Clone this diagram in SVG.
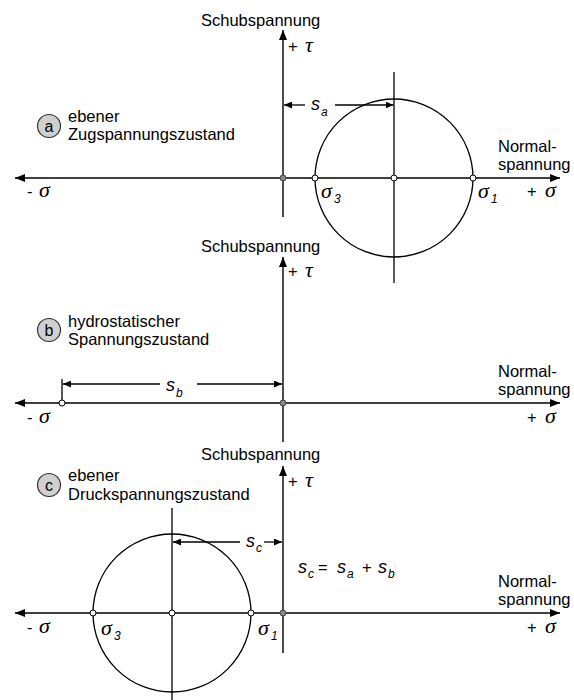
<svg xmlns="http://www.w3.org/2000/svg" width="574" height="700" viewBox="0 0 574 700">
<defs>
<marker id="ah" viewBox="0 0 10 8" refX="10" refY="4" markerWidth="10" markerHeight="8" markerUnits="userSpaceOnUse" orient="auto-start-reverse"><path d="M0,0 L10,4 L0,8 Z" fill="#000"/></marker>
<marker id="dh" viewBox="0 0 8 7" refX="8" refY="3.5" markerWidth="8" markerHeight="7" markerUnits="userSpaceOnUse" orient="auto-start-reverse"><path d="M0,0 L8,3.5 L0,7 Z" fill="#000"/></marker>
</defs>
<style>
.ax{stroke:#000;stroke-width:1.4;fill:none}
.ln{stroke:#000;stroke-width:1.3;fill:none}
.t{font-family:"Liberation Sans",Arial,sans-serif;font-size:16.5px;fill:#000}
.g{font-family:"Liberation Serif","Times New Roman",serif;font-style:italic;font-size:22px;fill:#000}
.gs{font-family:"Liberation Sans",Arial,sans-serif;font-style:italic;font-size:12px;fill:#000}
.s{font-family:"Liberation Sans",Arial,sans-serif;font-style:italic;font-size:18px;fill:#000}
.od{fill:#fff;stroke:#000;stroke-width:1}
.gd{fill:#888;stroke:#444;stroke-width:1}
.lb{fill:#d0d0d0;stroke:#333;stroke-width:1.2}
.lt{font-family:"Liberation Sans",Arial,sans-serif;font-size:16px;fill:#000;text-anchor:middle}
</style>

<g id="connectors">
<!-- panel a -->
<line class="ax" x1="283" y1="217" x2="283" y2="30" marker-end="url(#ah)"/>
<line class="ax" x1="15" y1="178" x2="560" y2="178" marker-start="url(#ah)" marker-end="url(#ah)"/>
<line class="ln" x1="305" y1="105" x2="284" y2="105" marker-end="url(#dh)"/>
<line class="ln" x1="335" y1="105" x2="393.5" y2="105" marker-end="url(#dh)"/>
<!-- panel b -->
<line class="ax" x1="283" y1="442" x2="283" y2="257" marker-end="url(#ah)"/>
<line class="ax" x1="15" y1="403" x2="560" y2="403" marker-start="url(#ah)" marker-end="url(#ah)"/>
<line class="ln" x1="62" y1="379" x2="62" y2="400"/>
<line class="ln" x1="160" y1="384" x2="63" y2="384" marker-end="url(#dh)"/>
<line class="ln" x1="197" y1="384" x2="282" y2="384" marker-end="url(#dh)"/>
<!-- panel c -->
<line class="ax" x1="283" y1="653" x2="283" y2="466" marker-end="url(#ah)"/>
<line class="ax" x1="15" y1="613" x2="560" y2="613" marker-start="url(#ah)" marker-end="url(#ah)"/>
<line class="ln" x1="240" y1="542" x2="173" y2="542" marker-end="url(#dh)"/>
<line class="ln" x1="264" y1="542" x2="282" y2="542" marker-end="url(#dh)"/>
</g>

<g id="mohr-a">
<circle class="ln" cx="394" cy="178" r="79"/>
<line class="ln" x1="394" y1="72" x2="394" y2="283"/>
<circle class="od" cx="315" cy="178" r="3"/>
<circle class="od" cx="394" cy="178" r="3"/>
<circle class="od" cx="473" cy="178" r="3"/>
<circle class="gd" cx="283" cy="178" r="3"/>
</g>
<g id="mohr-b">
<circle class="od" cx="62" cy="403" r="3"/>
<circle class="gd" cx="283" cy="403" r="3"/>
</g>
<g id="mohr-c">
<circle class="ln" cx="172" cy="613" r="79"/>
<line class="ln" x1="172" y1="508" x2="172" y2="700"/>
<circle class="od" cx="93" cy="613" r="3"/>
<circle class="od" cx="172" cy="613" r="3"/>
<circle class="od" cx="251" cy="613" r="3"/>
<circle class="gd" cx="283" cy="613" r="3"/>
</g>

<g id="labels-a">
<text class="t" x="201" y="26">Schubspannung</text>
<text class="t" x="288" y="52">+</text><text class="g" x="305" y="52">τ</text>
<circle class="lb" cx="49" cy="126" r="11.5"/><text class="lt" x="49" y="131.5">a</text>
<text class="t" x="68" y="122">ebener</text>
<text class="t" x="68" y="140">Zugspannungszustand</text>
<text class="s" x="311" y="110">s</text><text class="gs" x="321" y="116">a</text>
<text class="t" x="498" y="152">Normal-</text>
<text class="t" x="498" y="170">spannung</text>
<text class="t" x="27" y="197">-</text><text class="g" x="39" y="197">σ</text>
<text class="t" x="527" y="197">+</text><text class="g" x="545" y="197">σ</text>
<text class="g" x="321" y="198">σ</text><text class="gs" x="334" y="203">3</text>
<text class="g" x="478" y="198">σ</text><text class="gs" x="491" y="203">1</text>
</g>

<g id="labels-b">
<text class="t" x="201" y="252">Schubspannung</text>
<text class="t" x="288" y="277">+</text><text class="g" x="305" y="277">τ</text>
<circle class="lb" cx="49" cy="330" r="11.5"/><text class="lt" x="49" y="335.5">b</text>
<text class="t" x="68" y="327">hydrostatischer</text>
<text class="t" x="68" y="345">Spannungszustand</text>
<text class="s" x="166" y="391">s</text><text class="gs" x="176" y="397">b</text>
<text class="t" x="498" y="377">Normal-</text>
<text class="t" x="498" y="395">spannung</text>
<text class="t" x="27" y="423">-</text><text class="g" x="39" y="423">σ</text>
<text class="t" x="527" y="423">+</text><text class="g" x="545" y="423">σ</text>
</g>

<g id="labels-c">
<text class="t" x="201" y="460">Schubspannung</text>
<text class="t" x="288" y="487">+</text><text class="g" x="305" y="487">τ</text>
<circle class="lb" cx="49" cy="485" r="11.5"/><text class="lt" x="49" y="490.5">c</text>
<text class="t" x="68" y="481">ebener</text>
<text class="t" x="68" y="500">Druckspannungszustand</text>
<text class="s" x="246" y="547">s</text><text class="gs" x="256" y="552">c</text>
<text class="s" x="298" y="573">s</text><text class="gs" x="308" y="578">c</text>
<text class="t" x="318" y="573">=</text>
<text class="s" x="337" y="573">s</text><text class="gs" x="347" y="578">a</text>
<text class="t" x="362" y="573">+</text>
<text class="s" x="378" y="573">s</text><text class="gs" x="388" y="578">b</text>
<text class="t" x="498" y="587">Normal-</text>
<text class="t" x="498" y="605">spannung</text>
<text class="t" x="27" y="633">-</text><text class="g" x="39" y="633">σ</text>
<text class="t" x="527" y="633">+</text><text class="g" x="545" y="633">σ</text>
<text class="g" x="101" y="635">σ</text><text class="gs" x="114" y="640">3</text>
<text class="g" x="258" y="635">σ</text><text class="gs" x="271" y="640">1</text>
</g>
</svg>
